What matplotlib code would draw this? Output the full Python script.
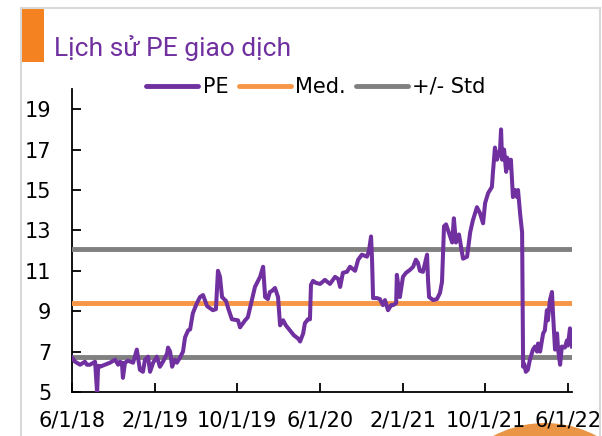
import numpy as np
import pandas as pd
import matplotlib
matplotlib.use("Agg")
import matplotlib.pyplot as plt
from matplotlib.lines import Line2D
from matplotlib.patches import Rectangle, Ellipse

# Lich su PE giao dich - du lieu doc theo ngay
pe_dates = [
    "2018-06-01", "2018-06-10", "2018-06-25", "2018-07-09", "2018-07-15", "2018-07-24",
    "2018-08-08", "2018-08-14", "2018-08-17", "2018-08-22", "2018-09-06", "2018-09-21",
    "2018-10-06", "2018-10-15", "2018-10-20", "2018-10-26", "2018-10-29", "2018-11-04",
    "2018-11-13", "2018-11-28", "2018-12-09", "2018-12-18", "2018-12-27", "2019-01-02",
    "2019-01-11", "2019-01-17", "2019-01-26", "2019-02-06", "2019-02-15", "2019-02-24",
    "2019-03-08", "2019-03-11", "2019-03-17", "2019-03-23", "2019-03-31", "2019-04-06",
    "2019-04-15", "2019-04-24", "2019-04-30", "2019-05-09", "2019-05-15", "2019-05-23",
    "2019-06-04", "2019-06-13", "2019-06-22", "2019-07-04", "2019-07-21", "2019-07-30",
    "2019-08-05", "2019-08-11", "2019-08-17", "2019-08-29", "2019-09-04", "2019-09-15",
    "2019-10-03", "2019-10-09", "2019-10-24", "2019-11-01", "2019-11-13", "2019-11-22",
    "2019-12-01", "2019-12-07", "2019-12-16", "2019-12-22", "2019-12-30", "2020-01-05",
    "2020-01-11", "2020-01-20", "2020-01-29", "2020-02-04", "2020-02-13", "2020-02-21",
    "2020-03-04", "2020-03-16", "2020-03-28", "2020-04-03", "2020-04-12", "2020-04-17",
    "2020-04-26", "2020-05-02", "2020-05-05", "2020-05-11", "2020-05-20", "2020-06-01",
    "2020-06-15", "2020-06-30", "2020-07-15", "2020-07-24", "2020-07-30", "2020-08-07",
    "2020-08-19", "2020-08-28", "2020-09-12", "2020-09-21", "2020-10-02", "2020-10-17",
    "2020-10-23", "2020-10-29", "2020-11-01", "2020-11-04", "2020-11-15", "2020-11-24",
    "2020-12-03", "2020-12-09", "2020-12-18", "2020-12-27", "2021-01-02", "2021-01-11",
    "2021-01-13", "2021-01-22", "2021-01-31", "2021-02-09", "2021-02-21", "2021-03-02",
    "2021-03-10", "2021-03-16", "2021-03-22", "2021-03-31", "2021-04-12", "2021-04-15",
    "2021-04-18", "2021-04-30", "2021-05-11", "2021-05-20", "2021-05-26", "2021-06-01",
    "2021-06-07", "2021-06-13", "2021-06-25", "2021-06-30", "2021-07-06", "2021-07-15",
    "2021-07-27", "2021-08-08", "2021-08-17", "2021-08-25", "2021-09-06", "2021-09-15",
    "2021-09-24", "2021-09-30", "2021-10-09", "2021-10-20", "2021-10-23", "2021-10-29",
    "2021-11-04", "2021-11-13", "2021-11-16", "2021-11-19", "2021-11-25", "2021-12-01",
    "2021-12-04", "2021-12-10", "2021-12-15", "2021-12-21", "2021-12-27", "2022-01-02",
    "2022-01-05", "2022-01-11", "2022-01-17", "2022-01-20", "2022-01-23", "2022-01-28",
    "2022-02-03", "2022-02-09", "2022-02-18", "2022-02-24", "2022-03-02", "2022-03-05",
    "2022-03-11", "2022-03-20", "2022-03-25", "2022-03-31", "2022-04-03", "2022-04-09",
    "2022-04-15", "2022-04-18", "2022-04-24", "2022-04-30", "2022-05-03", "2022-05-09",
    "2022-05-14", "2022-05-23", "2022-05-29", "2022-06-01", "2022-06-07", "2022-06-13",
]
pe_values = [
    6.7, 6.5, 6.35, 6.5, 6.35, 6.35,
    6.5, 4.95, 6.3, 6.25, 6.35, 6.45,
    6.6, 6.35, 6.5, 6.45, 5.7, 6.45,
    6.55, 6.45, 7.1, 6.1, 6.0, 6.6,
    6.75, 6.0, 6.45, 6.75, 6.25, 6.5,
    6.9, 7.2, 7.0, 6.25, 6.6, 6.45,
    6.7, 7.0, 7.7, 8.05, 8.1, 8.9,
    9.4, 9.7, 9.8, 9.25, 9.05, 9.1,
    11.0, 10.7, 9.7, 9.5, 9.15, 8.6,
    8.55, 8.2, 8.55, 8.7, 9.55, 10.2,
    10.5, 10.7, 11.2, 9.7, 9.6, 9.95,
    10.0, 10.15, 9.7, 8.3, 8.55, 8.3,
    8.05, 7.8, 7.65, 7.5, 7.9, 8.4,
    8.6, 8.6, 10.3, 10.5, 10.4, 10.35,
    10.55, 10.35, 10.7, 10.6, 10.2, 10.9,
    10.95, 11.2, 11.0, 11.55, 11.8, 11.7,
    12.0, 12.7, 11.5, 9.65, 9.65, 9.6,
    9.3, 9.55, 9.05, 9.3, 9.3, 9.4,
    10.8, 9.7, 10.7, 10.9, 11.05, 11.2,
    11.55, 11.4, 11.0, 10.95, 11.8, 10.5,
    9.7, 9.55, 9.6, 9.9, 10.45, 13.2,
    13.3, 13.0, 12.4, 13.6, 12.4, 12.8,
    11.6, 11.7, 12.9, 13.5, 14.15, 13.85,
    13.35, 14.35, 14.85, 15.15, 15.85, 17.1,
    16.5, 17.0, 18.0, 16.5, 17.0, 15.9,
    16.6, 16.1, 16.5, 14.65, 15.0, 14.65,
    15.0, 13.85, 12.9, 6.25, 6.4, 6.0,
    6.1, 6.6, 7.1, 7.25, 7.0, 7.4,
    7.0, 7.9, 8.05, 9.05, 8.55, 9.55,
    9.95, 8.9, 7.1, 7.9, 7.1, 6.35,
    7.25, 7.2, 7.55, 7.3, 8.15, 7.25,
]
pe_median = 9.4
pe_std = 2.67

tick_dates = ["2018-06-01", "2019-02-01", "2019-10-01", "2020-06-01",
              "2021-02-01", "2021-10-01", "2022-06-01"]
tick_labels = ["6/1/18", "2/1/19", "10/1/19", "6/1/20", "2/1/21", "10/1/21", "6/1/22"]
y_ticks = [5, 7, 9, 11, 13, 15, 17, 19]

PURPLE = "#7030A0"
ORANGE = "#F79646"
GRAY = "#808080"

dates = pd.to_datetime(pe_dates)

fig = plt.figure(figsize=(6.02, 4.36), dpi=100)
W, H = 602, 436

# khung vien va tieu de
border = dict(color="#D9D9D9", lw=1.5, transform=fig.transFigure)
fig.add_artist(Line2D([21 / W, 21 / W], [0, 1 - 8 / H], **border))
fig.add_artist(Line2D([21 / W, 600 / W], [1 - 8 / H, 1 - 8 / H], **border))
fig.add_artist(Line2D([600 / W, 600 / W], [0, 1 - 8 / H], **border))
fig.add_artist(Rectangle((21 / W, 1 - 62 / H), 23 / W, 54 / H,
                         transform=fig.transFigure, color="#F58220", lw=0))
fig.text(54 / W, 1 - 56 / H, "Lịch sử PE giao dịch", color=PURPLE, fontsize=19,
         family=["Roboto", "DejaVu Sans"], va="baseline", ha="left")

# hinh tron trang tri goc duoi
fig.add_artist(Ellipse((545 / W, 1 - 533 / H), 220 / W, 220 / H,
                       transform=fig.transFigure, color="#EA9445", lw=0, zorder=0))

ax = fig.add_axes([72 / W, 1 - 392 / H, 500 / W, (392 - 89) / H])
ax.patch.set_alpha(0)

ax.plot(dates, pe_values, color=PURPLE, lw=2.9, label="PE", zorder=4)
ax.axhline(pe_median, color=ORANGE, lw=3.5, label="Med.", zorder=3)
ax.axhline(pe_median + pe_std, color=GRAY, lw=3.5, label="+/- Std", zorder=3)
ax.axhline(pe_median - pe_std, color=GRAY, lw=3.5, zorder=3)

ax.set_ylim(5, 20)
ax.set_yticks(y_ticks)
ax.set_xlim(pd.Timestamp("2018-06-01"), pd.Timestamp("2022-06-13"))
ax.set_xticks(pd.to_datetime(tick_dates))
ax.set_xticklabels(tick_labels)

for s in ["top", "right"]:
    ax.spines[s].set_visible(False)
for s in ["left", "bottom"]:
    ax.spines[s].set_linewidth(1.3)
ax.tick_params(axis="both", direction="in", length=6.5, width=1.3,
               labelsize=15, colors="black")
ax.tick_params(axis="y", pad=15)
ax.tick_params(axis="x", pad=13)

leg = fig.legend(loc="center", bbox_to_anchor=(316 / W, 1 - 87 / H), ncol=3,
                 frameon=False, fontsize=15, handlelength=2.5, handletextpad=0.2,
                 columnspacing=0.5)
for h in leg.get_lines():
    h.set_solid_capstyle("round")
    h.set_linewidth(3.5)

fig.savefig("out.png", dpi=100)
